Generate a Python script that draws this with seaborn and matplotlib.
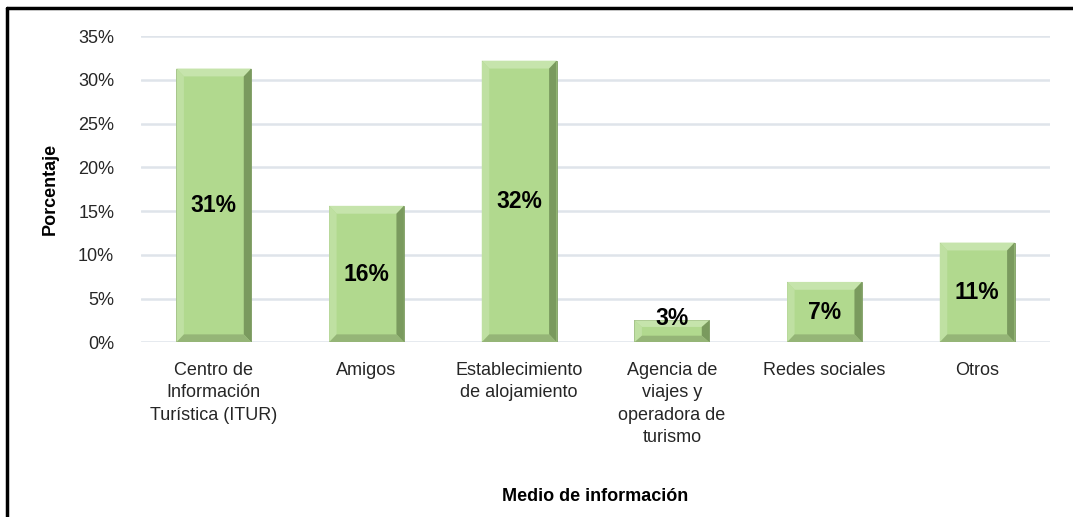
import matplotlib
matplotlib.use("Agg")
import matplotlib.pyplot as plt
import seaborn as sns
import pandas as pd
import numpy as np
from matplotlib.lines import Line2D
from matplotlib.patches import Polygon
from matplotlib.ticker import PercentFormatter, MultipleLocator

categories = ["Centro de\nInformación\nTurística (ITUR)", "Amigos",
              "Establecimiento\nde alojamiento",
              "Agencia de\nviajes y\noperadora de\nturismo",
              "Redes sociales", "Otros"]
values = [0.313, 0.156, 0.322, 0.025, 0.069, 0.114]
labels = ["31%", "16%", "32%", "3%", "7%", "11%"]

sns.set_theme(style="white")
plt.rcParams['font.family'] = ['Liberation Sans', 'DejaVu Sans']

df = pd.DataFrame({"cat": categories, "val": values})

fig = plt.figure(figsize=(10.73, 5.17), dpi=100)
ax = fig.add_axes([0.131, 0.338, 0.848, 0.592])

sns.barplot(data=df, x="cat", y="val", ax=ax, color="#b1d98e",
            width=0.49, edgecolor="#7d9a62", linewidth=0.6, saturation=1, zorder=3)

ax.set_ylim(0, 0.35)
ax.yaxis.set_major_locator(MultipleLocator(0.05))
ax.yaxis.set_major_formatter(PercentFormatter(1.0, decimals=0))
ax.grid(axis="y", color="#dfe4ea", linewidth=1.8, zorder=0)
ax.grid(axis="x", visible=False)
for s in ax.spines.values():
    s.set_visible(False)
ax.tick_params(axis="both", length=0, labelsize=13, colors="#262626")
ax.tick_params(axis="y", pad=19)
ax.tick_params(axis="x", pad=14)
for t in ax.get_xticklabels():
    t.set_linespacing(1.42)
ax.set_xlim(-0.48, 5.48)

ax.set_ylabel("Porcentaje", fontsize=13, fontweight="bold", color="black", labelpad=14)
ax.set_xlabel("Medio de información", fontsize=13, fontweight="bold", color="black")
ax.xaxis.set_label_coords(0.5, -0.475)

# bevel effect derived from the bar patches
bev = 0.009
for p in list(ax.patches):
    x0, y0 = p.get_x(), p.get_y()
    w, h = p.get_width(), p.get_height()
    bx = w * 0.1
    by = min(bev, h * 0.3)
    x1, y1 = x0 + w, y0 + h
    top = Polygon([(x0, y1), (x1, y1), (x1 - bx, y1 - by), (x0 + bx, y1 - by)],
                  closed=True, facecolor="#c6e4ac", edgecolor="none", zorder=4)
    left = Polygon([(x0, y0), (x0, y1), (x0 + bx, y1 - by), (x0 + bx, y0 + by)],
                   closed=True, facecolor="#bfe0a2", edgecolor="none", zorder=4)
    right = Polygon([(x1, y0), (x1, y1), (x1 - bx, y1 - by), (x1 - bx, y0 + by)],
                    closed=True, facecolor="#7a9a5e", edgecolor="none", zorder=4)
    bottom = Polygon([(x0, y0), (x1, y0), (x1 - bx, y0 + by), (x0 + bx, y0 + by)],
                     closed=True, facecolor="#95b577", edgecolor="none", zorder=4)
    for poly in (top, left, right, bottom):
        ax.add_patch(poly)

for i, (v, lab) in enumerate(zip(values, labels)):
    ax.text(i, max(v / 2, 0.027), lab, ha="center", va="center",
            fontsize=16.5, fontweight="bold", color="black", zorder=6)

# frame lines (top and left) like the reference crop
fig.add_artist(Line2D([7 / 1073, 1.0], [1 - 8 / 517, 1 - 8 / 517],
                      transform=fig.transFigure, color="black", linewidth=2.5))
fig.add_artist(Line2D([7 / 1073, 7 / 1073], [0, 1 - 8 / 517],
                      transform=fig.transFigure, color="black", linewidth=2.5))

fig.savefig("out.png", dpi=100, facecolor="white")
